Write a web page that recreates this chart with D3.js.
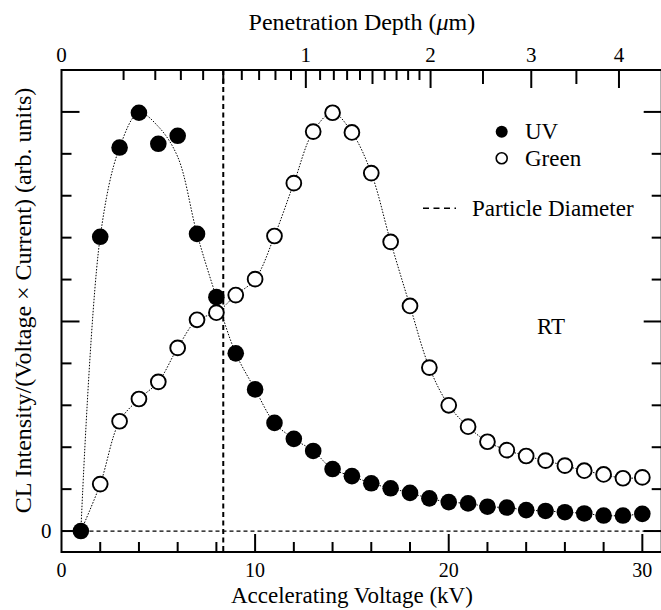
<!DOCTYPE html>
<html><head><meta charset="utf-8">
<script src="https://cdn.jsdelivr.net/npm/d3@7"></script>
<style>
html,body{margin:0;padding:0;background:#fff;}
svg{display:block;font-family:"Liberation Serif","Times New Roman",serif;}
</style></head>
<body>
<svg id="c" width="661" height="610"></svg>
<script>
// ---- data ----
const kV = [1,2,3,4,5,6,7,8,9,10,11,12,13,14,15,16,17,18,19,20,21,22,23,24,25,26,27,28,29,30];
const uv = [0,0.702,0.915,0.998,0.924,0.943,0.709,0.558,0.424,0.338,0.258,0.220,0.191,0.148,0.131,0.114,0.102,0.091,0.078,0.069,0.066,0.058,0.056,0.050,0.048,0.045,0.042,0.037,0.037,0.041];
const uvTrend = [0,0.702,0.915,0.998,0.965,0.893,0.709,0.558,0.424,0.338,0.258,0.220,0.191,0.148,0.131,0.114,0.102,0.091,0.078,0.069,0.066,0.058,0.056,0.050,0.048,0.045,0.042,0.037,0.037,0.041];
const green = [0,0.112,0.262,0.315,0.356,0.437,0.504,0.521,0.563,0.601,0.704,0.830,0.953,0.998,0.951,0.854,0.690,0.537,0.390,0.300,0.249,0.213,0.193,0.179,0.168,0.156,0.144,0.135,0.126,0.128];
const xTicks = [2,4,6,8,10,12,14,16,18,20,22,24,26,28,30];
const xLabels = [0,10,20,30];
const yTicks = [0,0.1,0.2,0.3,0.4,0.5,0.6,0.7,0.8,0.9,1.0];
const depthTicks = [0.1,0.2,0.3,0.4,0.5,0.6,0.7,0.8,0.9,1,1.1,1.2,1.3,1.4,1.5,1.6,1.7,1.8,1.9,2,2.5,3,3.5,4];
const depthLabels = [0,1,2,3,4];
const particleDepth = 0.5; // µm
const depthExp = 0.595, kVperMicron = 12.62;

// ---- scales ----
const svg = d3.select("#c");
const x = d3.scaleLinear().domain([0,31]).range([61.5,661.7]);
const y = d3.scaleLinear().domain([-0.05,1.1]).range([552,70]);
const depth = d3.scalePow().exponent(depthExp).domain([0,1]).range([x(0), x(kVperMicron)]);

const L = x(0), R = x(31), T = y(1.1), B = y(-0.05);

// zero dashed line
svg.append("line").attr("x1",L).attr("x2",R).attr("y1",y(0)).attr("y2",y(0))
  .attr("stroke","#000").attr("stroke-width",1.3).attr("stroke-dasharray","4,3");
// particle diameter dashed line
svg.append("line").attr("x1",depth(particleDepth)).attr("x2",depth(particleDepth)).attr("y1",T).attr("y2",B)
  .attr("stroke","#000").attr("stroke-width",2).attr("stroke-dasharray","5,3.5");

// trend lines
const line = d3.line().curve(d3.curveCatmullRom.alpha(0.5));
svg.append("path").attr("d", line(kV.map((k,i)=>[x(k), y(uvTrend[i])])))
  .attr("fill","none").attr("stroke","#000").attr("stroke-width",1).attr("stroke-dasharray","1.5,1.5");
svg.append("path").attr("d", line(kV.map((k,i)=>[x(k), y(green[i])])))
  .attr("fill","none").attr("stroke","#000").attr("stroke-width",1).attr("stroke-dasharray","1.5,1.5");

// markers
svg.append("g").selectAll("circle").data(kV.map((k,i)=>[k,uv[i]])).join("circle")
  .attr("cx",d=>x(d[0])).attr("cy",d=>y(d[1])).attr("r",8.3).attr("fill","#000");
svg.append("g").selectAll("circle").data(kV.map((k,i)=>[k,green[i]]).filter(d=>d[0]>1)).join("circle")
  .attr("cx",d=>x(d[0])).attr("cy",d=>y(d[1])).attr("r",7.4).attr("fill","#fff").attr("stroke","#000").attr("stroke-width",1.9);

// frame
svg.append("rect").attr("x",L).attr("y",T).attr("width",R-L).attr("height",B-T)
  .attr("fill","none").attr("stroke","#000").attr("stroke-width",2);

const tk = svg.append("g").attr("stroke","#000").attr("stroke-width",2);
// bottom ticks
xTicks.forEach(v=>{
  const len = v%10===0 ? 18 : 10;
  tk.append("line").attr("x1",x(v)).attr("x2",x(v)).attr("y1",B).attr("y2",B-len);
});
// left & right ticks
yTicks.forEach(v=>{
  const len = (Math.round(v*10)%5===0) ? 18 : 10;
  tk.append("line").attr("x1",L).attr("x2",L+len).attr("y1",y(v)).attr("y2",y(v));
  tk.append("line").attr("x1",R).attr("x2",R-len).attr("y1",y(v)).attr("y2",y(v));
});
// top ticks (penetration depth)
depthTicks.forEach(d=>{
  const r = Math.round(d*10);
  const len = r%10===0 ? 18 : (r%5===0 ? 14 : 10);
  tk.append("line").attr("x1",depth(d)).attr("x2",depth(d)).attr("y1",T).attr("y2",T+len);
});

// tick labels
svg.append("g").selectAll("text").data(xLabels).join("text")
  .attr("x",d=>x(d)).attr("y",B+25).attr("text-anchor","middle").attr("font-size",20).text(d=>d);
svg.append("g").selectAll("text").data(depthLabels).join("text")
  .attr("x",d=>depth(d)).attr("y",T-8).attr("text-anchor","middle").attr("font-size",21).text(d=>d);
svg.append("text").attr("x",L-10).attr("y",y(0)+7).attr("text-anchor","end").attr("font-size",21).text("0");

// axis titles
svg.append("text").attr("x",(L+x(30))/2).attr("y",603).attr("text-anchor","middle").attr("font-size",23)
  .text("Accelerating Voltage (kV)");
const tt = svg.append("text").attr("x",(L+x(30))/2+10).attr("y",30).attr("text-anchor","middle").attr("font-size",24);
tt.append("tspan").text("Penetration Depth (");
tt.append("tspan").attr("font-style","italic").text("\u03bc");
tt.append("tspan").text("m)");
svg.append("text").attr("transform",`translate(31,${(T+y(0))/2}) rotate(-90)`).attr("text-anchor","middle").attr("font-size",24)
  .text("CL Intensity/(Voltage \u00d7 Current) (arb. units)");

// legend
svg.append("circle").attr("cx",501.7).attr("cy",131.7).attr("r",6).attr("fill","#000");
svg.append("text").attr("x",525).attr("y",139).attr("font-size",23).text("UV");
svg.append("circle").attr("cx",501.7).attr("cy",158.3).attr("r",5.5).attr("fill","#fff").attr("stroke","#000").attr("stroke-width",1.6);
svg.append("text").attr("x",525).attr("y",166).attr("font-size",23).text("Green");
svg.append("line").attr("x1",423).attr("x2",456).attr("y1",208.3).attr("y2",208.3)
  .attr("stroke","#000").attr("stroke-width",1.5).attr("stroke-dasharray","6,4.5");
svg.append("text").attr("x",472).attr("y",216).attr("font-size",23).text("Particle Diameter");
svg.append("text").attr("x",537).attr("y",334).attr("font-size",23).text("RT");
</script>
</body></html>
